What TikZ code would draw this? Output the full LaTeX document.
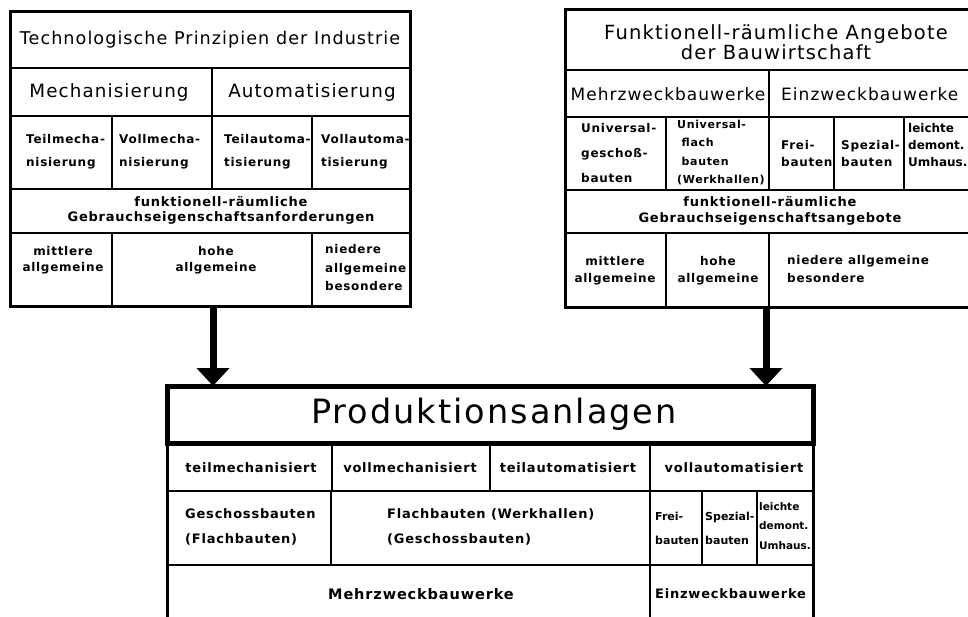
\documentclass[tikz,border=0pt]{standalone}
\usepackage{fontspec}
\setmainfont{DejaVu Sans}[LetterSpace=6]
\newfontfamily\plainfont{DejaVu Sans}
\usetikzlibrary{arrows.meta}

\begin{document}
\begin{tikzpicture}[x=1pt,y=-1pt,
  rule/.style={black,line width=2.4pt},
  box/.style={black,line width=3pt},
  headbox/.style={black,line width=5pt},
  bigarrow/.style={black,line width=7pt,-{Triangle[width=32pt,length=18pt]}},
  head/.style={font=\fontsize{#1}{19.5}\selectfont,align=center},
  lab/.style={font=\bfseries\fontsize{12}{#1}\selectfont,align=left,anchor=west},
  clab/.style={font=\bfseries\fontsize{12}{#1}\selectfont,align=center},
  blab/.style={font=\bfseries\fontsize{13}{#1}\selectfont,align=left,anchor=west},
  tiny/.style={font=\plainfont\bfseries\fontsize{10.5}{#1}\selectfont,align=left,anchor=west}]
\tikzstyle{every node}+=[inner sep=0pt]
\useasboundingbox (0,0) rectangle (968,617);
\clip (0,0) rectangle (968,617);

\draw [box] (10,12) rectangle (410,306);
\draw [rule] (10,68) -- (410,68) (10,116) -- (410,116) (10,189) -- (410,189) (10,233) -- (410,233);
\draw [rule] (212,68) -- (212,189) (112,116) -- (112,189) (312,116) -- (312,189);
\draw [rule] (112,233) -- (112,306) (312,233) -- (312,306);
\node [head=17.6] (techtitle) at (210,40) {Technologische Prinzipien der Industrie};
\node [head=18.3] (mech) at (109,92) {Mechanisierung};
\node [head=18.3] (auto) at (312,92) {Automatisierung};
\node [lab=23] (teilmech) at (26,151.5) {Teilmecha-\\nisierung};
\node [lab=23] (vollmech) at (119,151.5) {Vollmecha-\\nisierung};
\node [lab=23] (teilauto) at (224,151.5) {Teilautoma-\\tisierung};
\node [lab=23] (vollauto) at (321,151.5) {Vollautoma-\\tisierung};
\node [clab=15,font=\bfseries\fontsize{13}{15}\selectfont] (anford) at (221,210) {funktionell-räumliche\\Gebrauchseigenschaftsanforderungen};
\node [clab=16] (mittel) at (63,260) {mittlere\\allgemeine};
\node [clab=16] (hoch) at (216,260) {hohe\\allgemeine};
\node [lab=18.5] (nieder) at (325,268) {niedere\\allgemeine\\besondere};

\draw [box] (565,10) rectangle (985,307);
\draw [rule] (565,70) -- (985,70) (565,117) -- (985,117) (565,190) -- (985,190) (565,233) -- (985,233);
\draw [rule] (769,70) -- (769,190) (666,117) -- (666,190) (834,117) -- (834,190) (904,117) -- (904,190);
\draw [rule] (666,233) -- (666,307) (769,233) -- (769,307);
\node [head=19.5] (bautitle) at (776,42) {Funktionell-räumliche Angebote\\der Bauwirtschaft};
\node [head=17] (mehr) at (668,94) {Mehrzweckbauwerke};
\node [head=17,anchor=west] (einz) at (781,94) {Einzweckbauwerke};
\node [lab=25] (ugeschoss) at (581,153) {Universal-\\geschoß-\\bauten};
\node [lab=18.3,font=\bfseries\fontsize{11}{18.3}\selectfont] (uflach) at (677,152.5) {Universal-\\\ flach\\\ bauten\\(Werkhallen)};
\node [lab=17] (frei) at (781,153.5) {Frei-\\bauten};
\node [lab=17] (spezial) at (841,153.5) {Spezial-\\bauten};
\node [tiny=17,font=\plainfont\bfseries\fontsize{12}{17}\selectfont] (leicht) at (908,145) {leichte\\demont.\\Umhaus.};
\node [clab=16,font=\bfseries\fontsize{13}{16}\selectfont] (angebot) at (770,211) {funktionell-räumliche\\Gebrauchseigenschaftsangebote};
\node [clab=17] (bmittel) at (615,270.5) {mittlere\\allgemeine};
\node [clab=17] (bhoch) at (718,270.5) {hohe\\allgemeine};
\node [lab=18] (bnieder) at (787,269) {niedere allgemeine\\besondere};

\draw [box] (167,386) rectangle (813,625);
\draw [headbox] (167,386) rectangle (813,443);
\draw [rule] (167,491) -- (813,491) (167,565) -- (813,565);
\draw [rule] (332,443) -- (332,491) (490,443) -- (490,491) (650,443) -- (650,491);
\draw [rule] (331,491) -- (331,565) (650,491) -- (650,565) (702,491) -- (702,565) (757,491) -- (757,565);
\draw [rule] (650,565) -- (650,625);
\node [head=33.5,font=\fontsize{33.5}{35}\selectfont] (prod) at (494,414) {Produktionsanlagen};
\node [blab=16,anchor=center] (pteilmech) at (251,468) {teilmechanisiert};
\node [blab=16,anchor=center] (pvollmech) at (410,468) {vollmechanisiert};
\node [blab=16,anchor=center] (pteilauto) at (568,468) {teilautomatisiert};
\node [blab=16,anchor=center] (pvollauto) at (734,468) {vollautomatisiert};
\node [blab=25] (pgeschoss) at (185,527) {Geschossbauten\\(Flachbauten)};
\node [blab=25] (pflach) at (387,527) {Flachbauten (Werkhallen)\\(Geschossbauten)};
\node [tiny=24,font=\plainfont\bfseries\fontsize{11}{24}\selectfont] (pfrei) at (655,528) {Frei-\\bauten};
\node [tiny=24,font=\plainfont\bfseries\fontsize{11}{24}\selectfont] (pspezial) at (705,528) {Spezial-\\bauten};
\node [tiny=19.5] (pleicht) at (759,526) {leichte\\demont.\\Umhaus.};
\node [blab=16,anchor=center,font=\bfseries\fontsize{14.5}{16}\selectfont] (pmehr) at (421,594) {Mehrzweckbauwerke};
\node [blab=16] (peinz) at (655,594) {Einzweckbauwerke};

\coordinate (techout) at (213,306);
\coordinate (bauout) at (766,307);
\coordinate (prodinl) at (213,386);
\coordinate (prodinr) at (766,386);
\draw [bigarrow] (techout) -- (prodinl);
\draw [bigarrow] (bauout) -- (prodinr);
\end{tikzpicture}
\end{document}
